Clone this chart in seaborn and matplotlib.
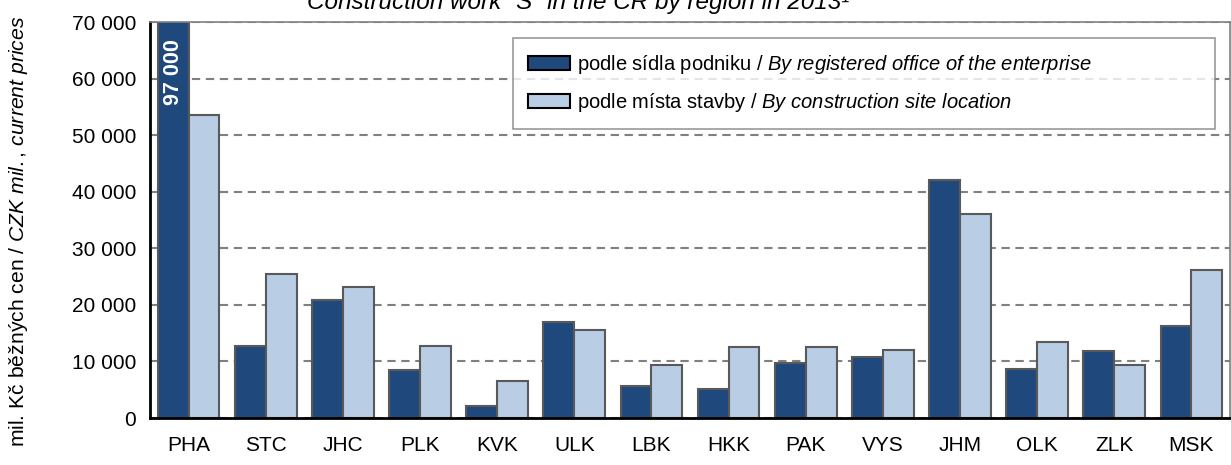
import numpy as np
import pandas as pd
import matplotlib
matplotlib.use("Agg")
import matplotlib.pyplot as plt
import matplotlib.ticker as mticker
from matplotlib.patches import Patch
import seaborn as sns

# data (mil. CZK)
regions = ["PHA", "STC", "JHC", "PLK", "KVK", "ULK", "LBK",
           "HKK", "PAK", "VYS", "JHM", "OLK", "ZLK", "MSK"]
by_office = [97000, 12700, 20800, 8500, 2100, 16900, 5700,
             5200, 9700, 10700, 42000, 8600, 11800, 16300]
by_site = [53600, 25400, 23200, 12700, 6600, 15600, 9300,
           12500, 12500, 12100, 36000, 13500, 9300, 26200]
series = ["office", "site"]
legend_labels = [r"podle sídla podniku / $\mathit{By\ registered\ office\ of\ the\ enterprise}$",
                 r"podle místa stavby / $\mathit{By\ construction\ site\ location}$"]
pha_label = "97 000"

dark = "#1f497d"
light = "#b9cde5"

sns.set_style("white")
plt.rcParams["font.family"] = ["Liberation Sans", "DejaVu Sans"]
plt.rcParams["mathtext.fontset"] = "custom"
plt.rcParams["mathtext.it"] = "Liberation Sans:italic"
plt.rcParams["mathtext.rm"] = "Liberation Sans"
plt.rcParams["mathtext.bf"] = "Liberation Sans:bold"

df = pd.DataFrame({
    "region": regions * 2,
    "value": by_office + by_site,
    "series": [series[0]] * len(regions) + [series[1]] * len(regions),
})

W, H = 1231, 465
fig = plt.figure(figsize=(W / 100, H / 100), dpi=100)
ax = fig.add_axes([150 / W, 47 / H, 1080 / W, 396 / H])

sns.barplot(data=df, x="region", y="value", hue="series", palette=[dark, light],
            width=0.8, edgecolor="#595959", linewidth=1.5, legend=False, ax=ax,
            saturation=1)

ax.set_ylim(0, 70000)
ax.set_xlim(-0.5, len(regions) - 0.5)
ax.set_axisbelow(True)
ax.yaxis.grid(True, linestyle=(0, (4, 2.7)), color="#808080", linewidth=1.5)
ax.set_yticks(np.arange(0, 70001, 10000))
ax.yaxis.set_major_formatter(mticker.FuncFormatter(lambda v, p: f"{v:,.0f}".replace(",", " ")))

# category boundaries get the tick marks, labels sit in between
ax.set_xticks(np.arange(-0.5, len(regions), 1))
ax.set_xticklabels([])
ax.set_xticks(np.arange(len(regions)), minor=True)
ax.set_xticklabels(regions, minor=True)
ax.tick_params(axis="x", which="major", direction="out", length=8, width=1.5, color="black")
ax.tick_params(axis="x", which="minor", length=0, pad=13, labelsize=15, labelcolor="black")
ax.tick_params(axis="y", direction="out", length=5, width=1.5, color="black",
               labelsize=15, pad=5, labelcolor="black")
ax.set_xlabel("")
ax.set_ylabel(r"mil. Kč běžných cen / $\mathit{CZK\ mil.{,}\ current\ prices}$",
              fontsize=15.2, color="black")
ax.yaxis.set_label_coords(-120 / 1080, 0.47)

for side in ["left", "bottom"]:
    ax.spines[side].set_color("black")
    ax.spines[side].set_linewidth(2)
for side in ["top", "right"]:
    ax.spines[side].set_color("#808080")
    ax.spines[side].set_linewidth(1.2)

# value of the clipped Prague bar
ax.text(0 - 0.2, 61200, pha_label, rotation=90, ha="center", va="center",
        color="white", fontweight="bold", fontsize=15.5)

handles = [Patch(facecolor=dark, edgecolor="black", linewidth=1.5),
           Patch(facecolor=light, edgecolor="black", linewidth=1.5)]
leg = fig.legend(handles, legend_labels, loc="upper left", mode="expand",
                 bbox_to_anchor=(513 / W, 1 - 118 / H, 702 / W, 80 / H),
                 bbox_transform=fig.transFigure, borderaxespad=0, fancybox=False,
                 fontsize=14.5, handlelength=2.1, handleheight=0.7, handletextpad=0.35,
                 labelspacing=0.72, borderpad=0.75)
leg.get_frame().set_edgecolor("#808080")
leg.get_frame().set_linewidth(1.2)
for t in leg.get_texts():
    t.set_color("black")

fig.text(578 / W, 1 - 2 / H, "Construction work \u201cS\u201d in the CR by region in 2013\u00b9",
         ha="center", va="center", style="italic", fontsize=17.5, color="black")

fig.savefig("out.png", dpi=100)
